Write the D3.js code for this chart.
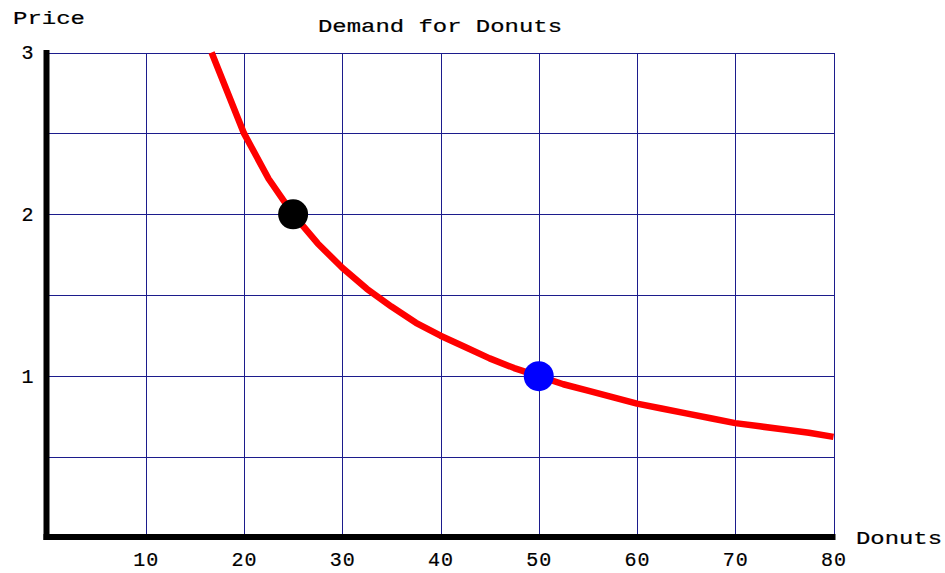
<!DOCTYPE html>
<html><head><meta charset="utf-8">
<script src="https://cdn.jsdelivr.net/npm/d3@7"></script>
<style>
html,body{margin:0;padding:0;background:#fff;}
svg{display:block;}
text{font-family:"Liberation Mono","DejaVu Sans Mono",monospace;fill:#000;stroke:#000;stroke-width:0.2px;}
</style></head>
<body>
<svg id="c" width="945" height="573"></svg>
<script>
// ---- data ----
const quantity = [16.7, 20, 22.5, 25, 27.5, 30, 32.5, 35, 37.5, 40, 42.5, 45, 47.5, 50, 52.5, 55, 57.5, 60, 62.5, 65, 67.5, 70, 72.5, 75, 77.5, 80];
const price    = [3, 2.5, 2.22, 2, 1.82, 1.67, 1.54, 1.43, 1.33, 1.25, 1.18, 1.11, 1.05, 1, 0.95, 0.91, 0.87, 0.83, 0.8, 0.77, 0.74, 0.71, 0.69, 0.67, 0.65, 0.625];
const pointQ = [25, 50];
const pointP = [2, 1];
const pointColors = ["#000000", "#0000ff"];
const xTicks = [10, 20, 30, 40, 50, 60, 70, 80];
const yTicks = [1, 2, 3];
const xGrid = [10, 20, 30, 40, 50, 60, 70, 80];
const yGrid = [0.5, 1, 1.5, 2, 2.5, 3];
const title = "Demand for Donuts";
const xLabel = "Donuts";
const yLabel = "Price";

const svg = d3.select("#c");
const x = d3.scaleLinear().domain([0, 80]).range([47.5, 833.5]);
const y = d3.scaleLinear().domain([0, 3]).range([538, 52.5]);

// grid
const gridColor = "#1c1c8c";
svg.append("g").attr("transform", `translate(0,${y(0)})`)
  .call(d3.axisBottom(x).tickValues(xGrid).tickSize(-(y(0) - y(3))).tickFormat(""))
  .call(g => g.select(".domain").remove())
  .call(g => g.selectAll("line").attr("stroke", gridColor).attr("stroke-width", 1).attr("shape-rendering","crispEdges"));
svg.append("g").attr("transform", `translate(${x(0)},0)`)
  .call(d3.axisLeft(y).tickValues(yGrid).tickSize(-(x(80) - x(0))).tickFormat(""))
  .call(g => g.select(".domain").remove())
  .call(g => g.selectAll("line").attr("stroke", gridColor).attr("stroke-width", 1).attr("shape-rendering","crispEdges"));

// axes lines (thick black)
svg.append("line").attr("x1", x(0) - 1).attr("x2", x(0) - 1).attr("y1", y(3) - 2.5).attr("y2", y(0) + 2)
  .attr("stroke", "#000").attr("stroke-width", 6);
svg.append("line").attr("x1", x(0) - 4).attr("x2", x(80) + 2).attr("y1", y(0) - 1).attr("y2", y(0) - 1)
  .attr("stroke", "#000").attr("stroke-width", 6);

// tick labels via axes
const xa = svg.append("g").attr("transform", `translate(0,${y(0)})`)
  .call(d3.axisBottom(x).tickValues(xTicks).tickSize(0).tickPadding(0).tickFormat(d3.format("d")));
xa.select(".domain").remove();
xa.selectAll("text").attr("font-size", 20).attr("dy", null).attr("y", 28)
  .attr("font-family", "Liberation Mono").attr("letter-spacing", 1);

const ya = svg.append("g").attr("transform", `translate(${x(0)},0)`)
  .call(d3.axisLeft(y).tickValues(yTicks).tickSize(0).tickPadding(0).tickFormat(d3.format("d")));
ya.select(".domain").remove();
ya.selectAll("text").attr("font-size", 20).attr("dy", null).attr("x", -14).attr("y", 6)
  .attr("font-family", "Liberation Mono");

// curve
const line = d3.line().x((d, i) => x(quantity[i])).y((d, i) => y(price[i])).curve(d3.curveLinear);
svg.append("path").datum(quantity).attr("d", line)
  .attr("fill", "none").attr("stroke", "#ff0000").attr("stroke-width", 6.5)
  .attr("stroke-linejoin", "round");

// points
svg.selectAll("circle.pt").data(pointQ).enter().append("circle")
  .attr("cx", (d) => x(d)).attr("cy", (d, i) => y(pointP[i]))
  .attr("r", 15).attr("fill", (d, i) => pointColors[i]);

// texts
svg.append("text").attr("x", 318).attr("y", 32).attr("font-size", 18)
  .attr("textLength", 244).attr("lengthAdjust", "spacingAndGlyphs").text(title);
svg.append("text").attr("x", 13).attr("y", 24).attr("font-size", 18)
  .attr("textLength", 72).attr("lengthAdjust", "spacingAndGlyphs").text(yLabel);
svg.append("text").attr("x", 856).attr("y", 544).attr("font-size", 18)
  .attr("textLength", 86).attr("lengthAdjust", "spacingAndGlyphs").text(xLabel);
</script>
</body></html>
